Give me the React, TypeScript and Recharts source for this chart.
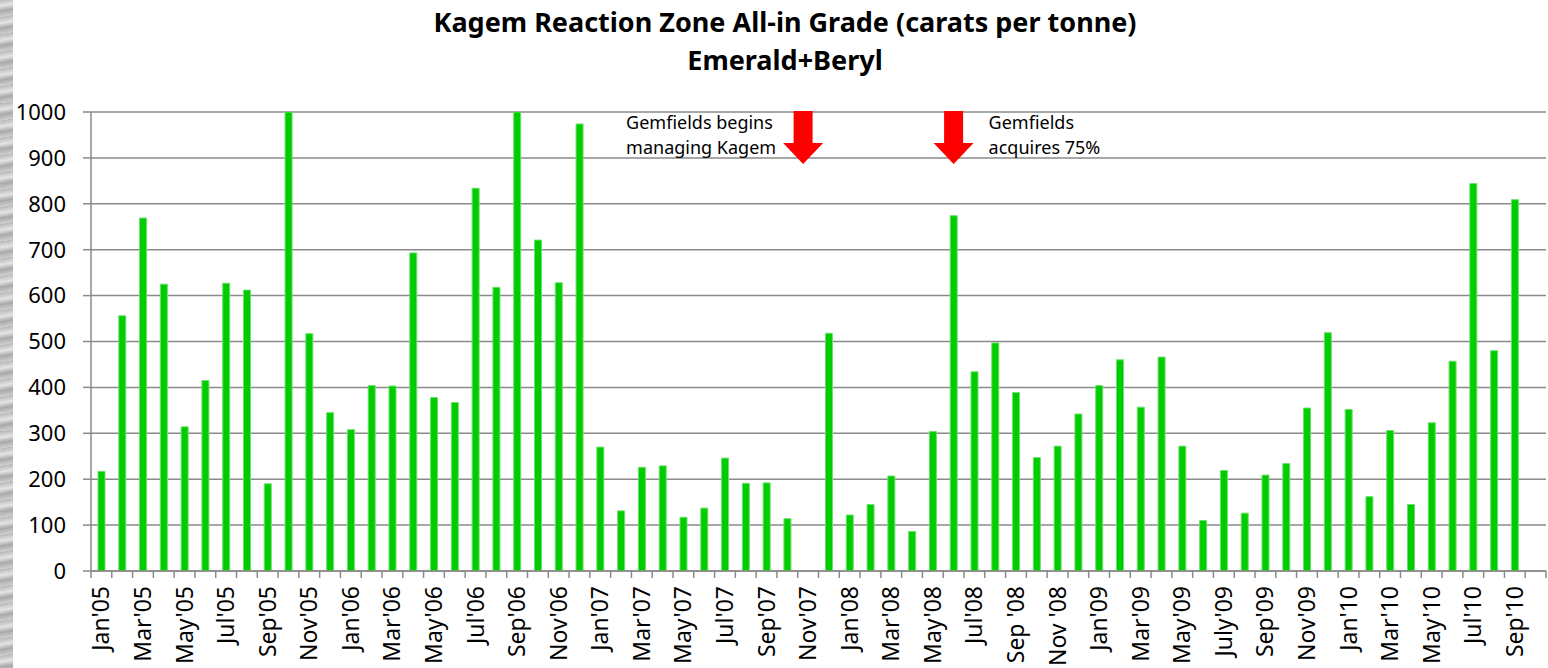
import React from 'react';
import { BarChart, Bar, XAxis, YAxis, CartesianGrid, ReferenceDot } from 'recharts';

const months = [
  "Jan'05", "Feb'05", "Mar'05", "Apr'05", "May'05", "Jun'05", "Jul'05", "Aug'05", "Sep'05", "Oct'05", "Nov'05", "Dec'05",
  "Jan'06", "Feb'06", "Mar'06", "Apr'06", "May'06", "Jun'06", "Jul'06", "Aug'06", "Sep'06", "Oct'06", "Nov'06", "Dec'06",
  "Jan'07", "Feb'07", "Mar'07", "Apr'07", "May'07", "Jun'07", "Jul'07", "Aug'07", "Sep'07", "Oct'07", "Nov'07", "Dec'07",
  "Jan'08", "Feb'08", "Mar'08", "Apr'08", "May'08", "Jun'08", "Jul'08", "Aug'08", "Sep '08", "Oct '08", "Nov '08", "Dec '08",
  "Jan'09", "Feb'09", "Mar'09", "Apr'09", "May'09", "Jun'09", "July'09", "Aug'09", "Sep'09", "Oct'09", "Nov'09", "Dec'09",
  "Jan'10", "Feb'10", "Mar'10", "Apr'10", "May'10", "Jun'10", "Jul'10", "Aug'10", "Sep'10", "Oct'10",
];

// carats per tonne, emerald + beryl
const grade: (number | null)[] = [
  217, 556, 769, 625, 314, 415, 627, 612, 190, 1000, 517, 345,
  308, 404, 403, 693, 378, 367, 834, 618, 1000, 721, 628, 974,
  270, 131, 226, 229, 117, 137, 246, 191, 192, 114, null, 518,
  122, 145, 207, 86, 304, 774, 434, 497, 389, 247, 272, 342,
  404, 460, 357, 466, 272, 110, 219, 126, 209, 234, 355, 519,
  352, 162, 306, 145, 323, 457, 844, 480, 809, null,
];

const yTicks = [0, 100, 200, 300, 400, 500, 600, 700, 800, 900, 1000];

const noteMonths = ["Nov'07", "Jun'08"];
const noteLines = [
  ['Gemfields begins', 'managing Kagem'],
  ['Gemfields', 'acquires 75%'],
];

const W = 1548;
const H = 668;
const Y_AXIS_W = 91;
const RIGHT = 2;
const BAND = (W - Y_AXIS_W - RIGHT) / months.length;
const FONT = "'Noto Sans', sans-serif";
const AXIS = '#8a8a8a';

const data = months.map((month, i) => ({ month, grade: grade[i] }));

function MonthTick(props: any) {
  const { x, y, index, payload } = props;
  const half = BAND / 2;
  const ty = y + 15;
  return (
    <g>
      <line x1={x - half} x2={x - half} y1={y} y2={y + 7} stroke={AXIS} strokeWidth={1.5} />
      {index === months.length - 1 && (
        <line x1={x + half} x2={x + half} y1={y} y2={y + 7} stroke={AXIS} strokeWidth={1.5} />
      )}
      {index % 2 === 0 && (
        <text
          x={x}
          y={ty}
          transform={`rotate(-90 ${x} ${ty})`}
          textAnchor="end"
          dy="0.35em"
          fontSize={23}
          fontFamily={FONT}
          fill="#000"
        >
          {payload.value}
        </text>
      )}
    </g>
  );
}

function makeArrow(lines: string[], textX: number, shift: number) {
  return (p: any) => {
    const cx = p.cx + shift;
    const cy = p.cy;
    const pts = [
      [cx - 9.5, cy - 1],
      [cx + 9.5, cy - 1],
      [cx + 9.5, cy + 31],
      [cx + 20, cy + 31],
      [cx, cy + 52],
      [cx - 20, cy + 31],
      [cx - 9.5, cy + 31],
    ]
      .map((q) => q.join(','))
      .join(' ');
    return (
      <g>
        <polygon points={pts} fill="#ff0000" />
        {lines.map((t, i) => (
          <text key={t} x={cx + textX} y={cy + 17 + i * 25} fontSize={18} fontFamily={FONT} fill="#000">
            {t}
          </text>
        ))}
      </g>
    );
  };
}

export default function App() {
  return (
    <div style={{ position: 'absolute', left: 0, top: 0, width: W, height: H, background: '#fff' }}>
      <div
        style={{
          position: 'absolute',
          left: 0,
          top: 0,
          width: 13,
          height: H,
          background: 'repeating-linear-gradient(170deg, #b8b8b8 0px, #e4e4e4 6px, #a9a9a9 11px, #d0d0d0 17px)',
        }}
      />
      <div
        style={{
          position: 'absolute',
          left: 0,
          top: 3,
          width: W + 22,
          textAlign: 'center',
          fontFamily: FONT,
          fontWeight: 700,
          fontSize: 27,
          lineHeight: '38px',
          color: '#000',
        }}
      >
        <div>Kagem Reaction Zone All-in Grade (carats per tonne)</div>
        <div>Emerald+Beryl</div>
      </div>
      <div style={{ position: 'absolute', left: 0, top: 0 }}>
        <BarChart width={W} height={H} data={data} margin={{ top: 112, right: RIGHT, bottom: 0, left: 0 }} barSize={7}>
          <CartesianGrid vertical={false} stroke={AXIS} strokeWidth={1.5} />
          <XAxis
            dataKey="month"
            interval={0}
            height={97}
            tickLine={false}
            tickSize={0}
            tickMargin={0}
            axisLine={{ stroke: AXIS, strokeWidth: 1.5 }}
            tick={<MonthTick />}
          />
          <YAxis
            width={Y_AXIS_W}
            domain={[0, 1000]}
            ticks={yTicks}
            interval={0}
            allowDataOverflow
            tickSize={8}
            tickMargin={17}
            axisLine={{ stroke: AXIS, strokeWidth: 1.5 }}
            tickLine={{ stroke: AXIS, strokeWidth: 1.5 }}
            tick={{ fontSize: 22, fontFamily: FONT, fill: '#000' }}
          />
          <Bar dataKey="grade" fill="#00cc00" stroke="#6be06b" strokeWidth={1} isAnimationActive={false} />
          <ReferenceDot
            x={noteMonths[0]}
            y={1000}
            ifOverflow="visible"
            shape={makeArrow(noteLines[0], -177, -5)}
          />
          <ReferenceDot
            x={noteMonths[1]}
            y={1000}
            ifOverflow="visible"
            shape={makeArrow(noteLines[1], 35, 0)}
          />
        </BarChart>
      </div>
    </div>
  );
}
